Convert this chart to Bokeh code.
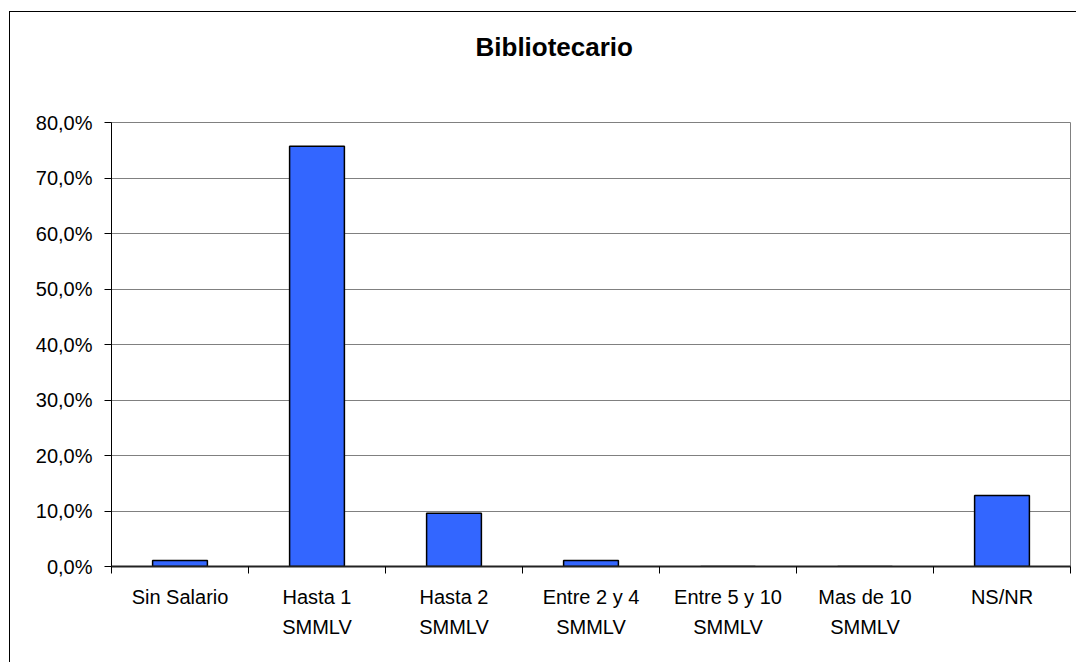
from bokeh.plotting import figure
from bokeh.models import Range1d, FixedTicker, Title
from bokeh.embed import file_html
from bokeh.resources import INLINE

chart_title = "Bibliotecario"
categories = ["Sin Salario", "Hasta 1\nSMMLV", "Hasta 2\nSMMLV", "Entre 2 y 4\nSMMLV",
              "Entre 5 y 10\nSMMLV", "Mas de 10\nSMMLV", "NS/NR"]
values = [1.1, 75.7, 9.6, 1.1, 0.0, 0.0, 12.8]
y_ticks = [0, 10, 20, 30, 40, 50, 60, 70, 80]
y_tick_labels = ["0,0%", "10,0%", "20,0%", "30,0%", "40,0%", "50,0%", "60,0%", "70,0%", "80,0%"]

FONT = "Liberation Sans"
n = len(categories)
centers = [i + 0.5 for i in range(n)]
bounds = [i for i in range(n + 1)]

W, H = 1076, 662
BL, BR, BT, BB = 111, 6, 122, 96

p = figure(width=W, height=H, output_backend="svg", toolbar_location=None,
           x_range=Range1d(0, n), y_range=Range1d(y_ticks[0], y_ticks[-1]),
           min_border_left=BL, min_border_right=BR, min_border_top=BT, min_border_bottom=BB,
           background_fill_color="white", border_fill_color=None)

# outer chart-area border (left and top edges visible, as in the reference)
p.styles = {
    "background": "linear-gradient(#000,#000) 9px 11px / 1px 100% no-repeat, "
                  "linear-gradient(#000,#000) 9px 11px / 100% 1px no-repeat, #fff"
}

# main title (outermost)
p.title.text = chart_title
p.title.align = "left"
p.title.offset = 364
p.title.text_font = FONT
p.title.text_font_size = "26px"
p.title.text_font_style = "bold"
p.title.text_color = "black"
p.title.standoff = 0

# empty spacer between the title and the plot frame
p.add_layout(Title(text=" ", text_font_size="1px", standoff=58), "above")

p.vbar(x=centers, top=values, bottom=0, width=0.4,
       fill_color="#3366FF", line_color="black", line_width=1.5)

p.outline_line_color = "#808080"
p.outline_line_width = 1
p.xgrid.visible = False
p.ygrid.ticker = FixedTicker(ticks=y_ticks)
p.ygrid.grid_line_color = "#808080"
p.ygrid.grid_line_width = 1

ya = p.yaxis[0]
ya.ticker = FixedTicker(ticks=y_ticks)
ya.major_label_overrides = {t: l for t, l in zip(y_ticks, y_tick_labels)}
ya.axis_line_color = "black"
ya.major_tick_line_color = "black"
ya.major_tick_out = 7
ya.major_tick_in = 0
ya.minor_tick_out = 0
ya.minor_tick_in = 0
ya.major_label_standoff = 12
ya.major_label_text_font = FONT
ya.major_label_text_font_size = "20px"
ya.major_label_text_color = "black"

xa = p.xaxis[0]
xa.ticker = FixedTicker(ticks=centers, minor_ticks=bounds)
xa.major_label_overrides = {c: l for c, l in zip(centers, categories)}
xa.axis_line_color = "#222222"
xa.axis_line_width = 2
xa.major_tick_out = 0
xa.major_tick_in = 0
xa.minor_tick_out = 7
xa.minor_tick_in = 0
xa.minor_tick_line_color = "black"
xa.major_label_standoff = 12
xa.major_label_text_font = FONT
xa.major_label_text_font_size = "20px"
xa.major_label_text_color = "black"
xa.major_label_text_line_height = 1.4
xa.major_label_orientation = "horizontal"

open("out.html", "w").write(file_html(p, INLINE))
